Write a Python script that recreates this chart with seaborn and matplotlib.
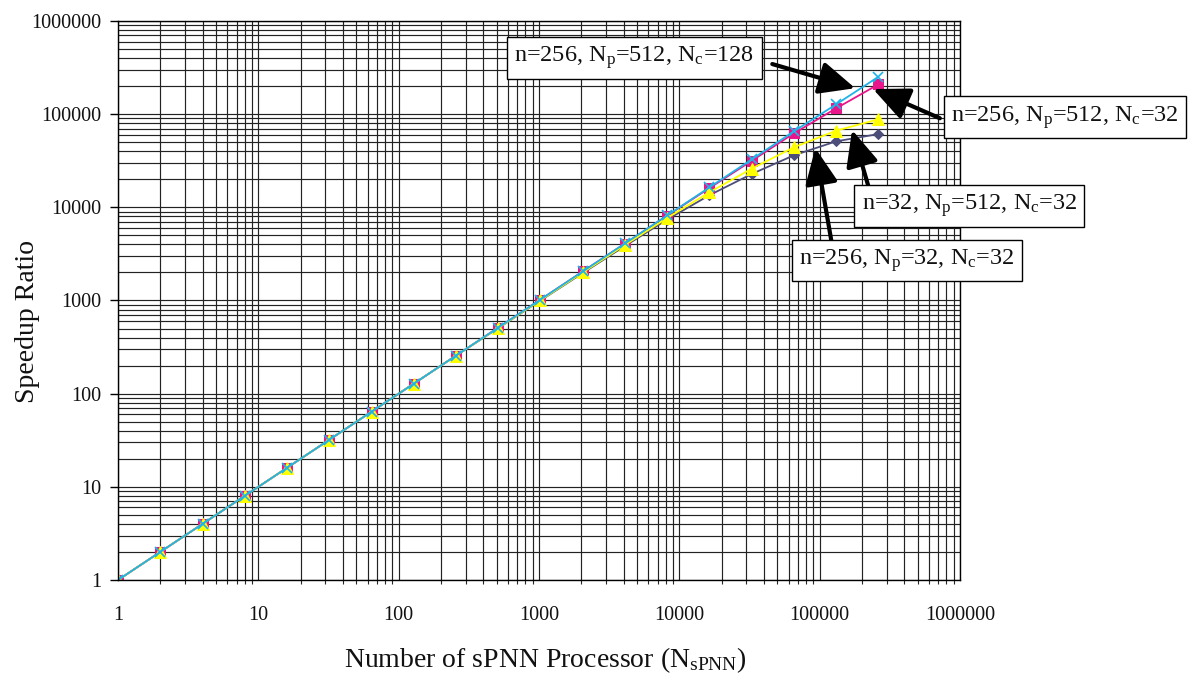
import numpy as np
import pandas as pd
import matplotlib
matplotlib.use("Agg")
import matplotlib.pyplot as plt
from matplotlib.ticker import FixedLocator, FixedFormatter, LogLocator, NullFormatter
import seaborn as sns

# Processor counts (powers of two) and measured speedup ratios
n_proc = [1, 2, 4, 8, 16, 32, 64, 128, 256, 512, 1024, 2048, 4096, 8192,
          16384, 32768, 65536, 131072, 262144]

speedup_n256_np32_nc32 = [1, 2, 4, 8, 16, 32, 64, 128, 256, 505, 1000, 1970,
                          3850, 7400, 13500, 22800, 36200, 51100, 61200]
speedup_n256_np512_nc32 = [1, 2, 4, 8, 16, 32, 64, 128, 256, 512, 1024, 2048,
                           4090, 8150, 16100, 31600, 62300, 115600, 209000]
speedup_n32_np512_nc32 = [1, 2, 4, 8, 16, 32, 64, 128, 256, 508, 1010, 2000,
                          3950, 7700, 14500, 26000, 44100, 66500, 88100]
speedup_n256_np512_nc128 = [1, 2, 4, 8, 16, 32, 64, 128, 256, 512, 1024, 2048,
                            4096, 8192, 16384, 32700, 65500, 127600, 252000]

decade_ticks = [1, 10, 100, 1000, 10000, 100000, 1000000]
decade_labels = ["1", "10", "100", "1000", "10000", "100000", "1000000"]

label_a = "n=256, N$_\\mathrm{p}$=512, N$_\\mathrm{c}$=128"
label_b = "n=256, N$_\\mathrm{p}$=512, N$_\\mathrm{c}$=32"
label_c = "n=32, N$_\\mathrm{p}$=512, N$_\\mathrm{c}$=32"
label_d = "n=256, N$_\\mathrm{p}$=32, N$_\\mathrm{c}$=32"

sns.set_theme(style="white")
plt.rcParams["font.family"] = ["Liberation Serif", "DejaVu Serif"]
plt.rcParams["mathtext.fontset"] = "custom"
plt.rcParams["mathtext.rm"] = "Liberation Serif"
plt.rcParams["mathtext.it"] = "Liberation Serif:italic"
plt.rcParams["mathtext.bf"] = "Liberation Serif:bold"

fig = plt.figure(figsize=(11.91, 6.73), dpi=100)
ax = fig.add_axes([0.0991, 0.1382, 0.7070, 0.8306])

series = [
    (speedup_n256_np32_nc32, "#4d4d7a", "D", 5.5, dict()),
    (speedup_n256_np512_nc32, "#e8168a", "s", 7, dict()),
    (speedup_n32_np512_nc32, "#ffff00", "^", 8, dict()),
    (speedup_n256_np512_nc128, "#1fb4e8", "x", 7, dict(markeredgewidth=1.2)),
]
for vals, col, mk, ms, extra in series:
    df = pd.DataFrame({"n": n_proc, "s": vals})
    sns.lineplot(data=df, x="n", y="s", ax=ax, color=col, marker=mk,
                 markersize=ms, markeredgecolor=col, linewidth=1.3,
                 legend=False, **extra)

ax.set_xscale("log")
ax.set_yscale("log")
ax.set_xlim(1, 1e6)
ax.set_ylim(1, 1e6)

for axis in (ax.xaxis, ax.yaxis):
    axis.set_major_locator(FixedLocator(decade_ticks))
    axis.set_major_formatter(FixedFormatter(decade_labels))
    axis.set_minor_locator(LogLocator(base=10, subs=np.arange(2, 10), numticks=20))
    axis.set_minor_formatter(NullFormatter())

ax.grid(True, which="both", color="#222222", linewidth=0.85)
ax.set_axisbelow(True)
for sp in ax.spines.values():
    sp.set_color("black")
    sp.set_linewidth(1.0)

ax.tick_params(axis="both", which="major", direction="out", length=6, width=1,
               color="black", labelsize=14.5, labelcolor="#111111")
ax.tick_params(axis="x", which="major", pad=13)
ax.tick_params(axis="y", which="major", pad=6, left=True)
ax.tick_params(axis="x", which="minor", direction="out", length=3, width=0.8,
               bottom=True)
ax.tick_params(axis="y", which="minor", left=False)

ax.set_xlabel("Number of sPNN Processor (N$_\\mathrm{sPNN}$)", fontsize=20,
              color="#111111")
ax.set_ylabel("Speedup Ratio", fontsize=20, color="#111111")
ax.xaxis.set_label_coords(0.507, -0.116)
ax.yaxis.set_label_coords(-0.093, 0.463)

box = dict(boxstyle="square,pad=0.3", facecolor="white", edgecolor="black",
           linewidth=1.0)
arrow = dict(arrowstyle="-|>,head_length=1.1,head_width=0.5", color="black",
             lw=3, shrinkA=0, shrinkB=0, mutation_scale=20)

notes = [
    (label_a, (0.613, 0.934), (0.777, 0.923), (179000, 190000)),
    (label_b, (1.125, 0.828), (0.976, 0.826), (240000, 186000)),
    (label_c, (1.011, 0.669), (0.891, 0.705), (170000, 67600)),
    (label_d, (0.937, 0.572), (0.847, 0.608), (93000, 43300)),
]
for text, center, tail, tip in notes:
    ax.annotate("", xy=tip, xycoords="data", xytext=tail,
                textcoords="axes fraction", arrowprops=arrow, zorder=5)
    ax.text(center[0], center[1], text, transform=ax.transAxes, fontsize=17.5,
            ha="center", va="center", bbox=box, zorder=6, color="#111111")

fig.savefig("out.png", dpi=100)
